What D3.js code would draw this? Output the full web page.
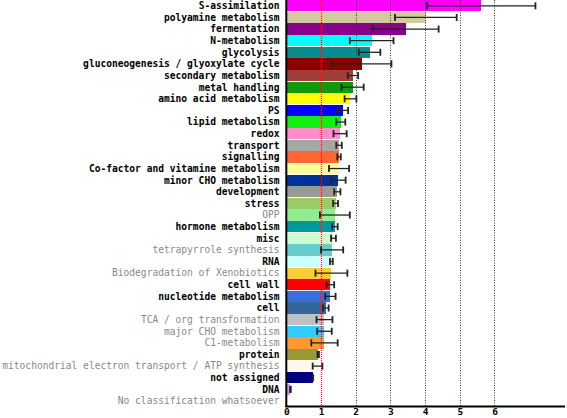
<!DOCTYPE html>
<html><head><meta charset="utf-8">
<script src="https://cdn.jsdelivr.net/npm/d3@7"></script>
<style>
html,body{margin:0;padding:0;background:#fff;}
svg{display:block;}
</style></head>
<body>
<script>
const categories = ["S-assimilation","polyamine metabolism","fermentation","N-metabolism","glycolysis",
"gluconeogenesis / glyoxylate cycle","secondary metabolism","metal handling","amino acid metabolism","PS",
"lipid metabolism","redox","transport","signalling","Co-factor and vitamine metabolism","minor CHO metabolism",
"development","stress","OPP","hormone metabolism","misc","tetrapyrrole synthesis","RNA",
"Biodegradation of Xenobiotics","cell wall","nucleotide metabolism","cell","TCA / org transformation",
"major CHO metabolism","C1-metabolism","protein","mitochondrial electron transport / ATP synthesis",
"not assigned","DNA","No classification whatsoever"];
const values = [5.62,4.02,3.44,2.46,2.40,2.18,1.92,1.91,1.85,1.62,1.57,1.55,1.52,1.52,1.52,1.50,1.47,1.42,1.40,1.40,1.36,1.32,1.30,1.30,1.27,1.27,1.14,1.10,1.10,1.10,0.92,0.90,0.77,0.12,0];
const errors = [1.56,0.89,0.95,0.63,0.31,0.85,0.15,0.32,0.17,0.16,0.13,0.19,0.08,0.05,0.29,0.21,0.09,0.07,0.43,0.08,0.07,0.32,0.04,0.46,0.11,0.15,0.08,0.23,0.21,0.38,0.02,0.14,0.005,0.01,0];
const significant = [1,1,1,1,1,1,1,1,1,1,1,1,1,1,1,1,1,1,0,1,1,0,1,0,1,1,1,0,0,0,1,0,1,1,0];
const colors = ["#ff00ff","#d0cc9c","#8b008b","#00ffff","#0a8c8c","#8b0000","#a23e3a","#0e9a0e","#ffff00","#0000ff",
"#11ee11","#ff8ccb","#a6a6a6","#ff6633","#ffff99","#003399","#999999","#99cc66","#90ee90","#009999",
"#ccffcc","#66cccc","#ccffff","#ffcc33","#ff0000","#3a6fd8","#336699","#c0c0c0","#33ccff","#ff9933",
"#999933","#fff8ec","#000080","#cc99ee","#ffffff"];
const xTicks = [0,1,2,3,4,5,6];
const gridTicks = [2,3,4,5,6];
const refLine = 1;

const W = 567, H = 418;
const svg = d3.select("body").append("svg").attr("width", W).attr("height", H);

const x = d3.scaleLinear().domain([0, 8]).range([286.3, 563.9]);
const y = d3.scaleBand().domain(categories).range([0, 406.8]).paddingInner(0.03).paddingOuter(0.015);

const font = "'DejaVu Sans Mono', 'Liberation Mono', monospace";

// bars
svg.append("g").selectAll("rect").data(categories).join("rect")
  .attr("x", x(0))
  .attr("y", d => y(d))
  .attr("width", (d,i) => Math.max(0, x(values[i]) - x(0)))
  .attr("height", y.bandwidth())
  .attr("fill", (d,i) => colors[i])
  .attr("shape-rendering", "crispEdges");

// grid lines
svg.append("g").selectAll("line").data(gridTicks).join("line")
  .attr("x1", d => Math.round(x(d)) + 0.5).attr("x2", d => Math.round(x(d)) + 0.5)
  .attr("y1", 0).attr("y2", 406)
  .attr("stroke", "#333").attr("stroke-width", 1).attr("stroke-dasharray", "1,1.5");
svg.append("line")
  .attr("x1", Math.round(x(refLine)) + 0.5).attr("x2", Math.round(x(refLine)) + 0.5)
  .attr("y1", 0).attr("y2", 406)
  .attr("stroke", "#ff1010").attr("stroke-width", 1.2).attr("stroke-dasharray", "1,1");

// error bars
const eg = svg.append("g").attr("stroke", "#222");
categories.forEach((c, i) => {
  if (values[i] <= 0) return;
  const cy = y(c) + y.bandwidth() / 2;
  const lo = x(values[i] - errors[i]), hi = x(values[i] + errors[i]);
  eg.append("line").attr("x1", lo).attr("x2", hi).attr("y1", cy).attr("y2", cy).attr("stroke-width", 1.3);
  [lo, hi].forEach(px => eg.append("line").attr("x1", px).attr("x2", px)
    .attr("y1", cy - 3.5).attr("y2", cy + 3.5).attr("stroke-width", 1.8));
});

// category labels
svg.append("g").selectAll("text").data(categories).join("text")
  .attr("x", 279.5)
  .attr("y", d => y(d) + y.bandwidth() / 2)
  .attr("dy", "0.35em")
  .attr("text-anchor", "end")
  .attr("font-family", font)
  .attr("font-size", "9.6px")
  .attr("font-weight", (d,i) => significant[i] ? "bold" : "normal")
  .attr("fill", (d,i) => significant[i] ? "#000" : "#888")
  .text(d => d);

// axes lines
svg.append("line").attr("x1", x(0)).attr("x2", x(0)).attr("y1", 0).attr("y2", 407)
  .attr("stroke", "#000").attr("stroke-width", 2);
svg.append("line").attr("x1", x(0) - 1).attr("x2", 565).attr("y1", 406.5).attr("y2", 406.5)
  .attr("stroke", "#000").attr("stroke-width", 2);

// x tick labels
const xAxis = d3.axisBottom(x).tickValues(xTicks).tickSize(0).tickPadding(0).tickFormat(d3.format("d"));
const ax = svg.append("g").attr("transform", "translate(0,408)").call(xAxis);
ax.select(".domain").remove();
ax.selectAll("text").attr("font-family", font).attr("font-size", "9.5px").attr("font-weight", "bold")
  .attr("fill", "#000").attr("dy", "0.71em");
</script>
</body></html>
